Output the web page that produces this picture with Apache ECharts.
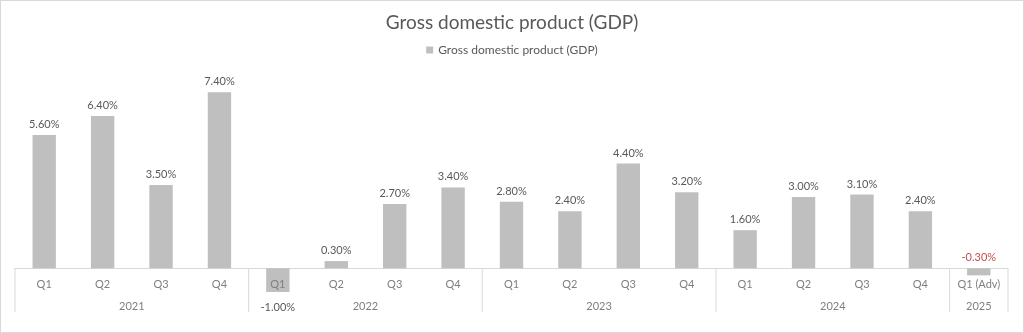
<!DOCTYPE html>
<html>
<head>
<meta charset="utf-8">
<script src="https://cdn.jsdelivr.net/npm/echarts@6/dist/echarts.min.js"></script>
<style>
html,body{margin:0;padding:0;background:#fff;}
#c{width:1024px;height:333px;box-sizing:border-box;border:1px solid #d9d9d9;}
</style>
</head>
<body>
<div id="c"></div>
<script>
const quarters = ['Q1','Q2','Q3','Q4','Q1','Q2','Q3','Q4','Q1','Q2','Q3','Q4','Q1','Q2','Q3','Q4','Q1 (Adv)'];
const gdp = [5.6, 6.4, 3.5, 7.4, -1.0, 0.3, 2.7, 3.4, 2.8, 2.4, 4.4, 3.2, 1.6, 3.0, 3.1, 2.4, -0.3];
const years = ['2021', '2022', '2023', '2024', '2025'];
const yearStart = [0, 4, 8, 12, 16];
const yearEnd = [3, 7, 11, 15, 16];
const seriesName = 'Gross domestic product (GDP)';

const FONT = 'Lato, "Open Sans", sans-serif';
const chart = echarts.init(document.getElementById('c'), null, {renderer: 'canvas'});

const barData = gdp.map((v, i) => {
  const d = {value: v};
  if (i === 4) d.label = {position: 'bottom', distance: 10};
  if (i === 16) d.label = {position: 'top', color: '#c0504d'};
  return d;
});

chart.setOption({
  animation: false,
  textStyle: {fontFamily: FONT},
  title: {
    text: 'Gross domestic product (GDP)',
    left: 'center', top: 7,
    textStyle: {fontSize: 19, fontWeight: 'normal', color: '#595959', fontFamily: FONT}
  },
  legend: {
    data: [seriesName],
    top: 38, left: 'center',
    icon: 'rect', itemWidth: 7, itemHeight: 7, itemGap: 5,
    textStyle: {fontSize: 12, color: '#595959', fontFamily: FONT}
  },
  grid: {left: 14, right: 15, top: 77, bottom: 40, containLabel: false},
  xAxis: {
    type: 'category',
    data: quarters,
    axisLine: {onZero: true, lineStyle: {color: '#d9d9d9', width: 1}},
    axisTick: {show: false},
    axisLabel: {show: false}
  },
  yAxis: {
    type: 'value', min: -1, max: 8,
    show: false,
    splitLine: {show: false}
  },
  series: [
    {
      name: seriesName,
      type: 'bar',
      data: barData,
      barWidth: '40%',
      itemStyle: {color: '#bfbfbf'},
      label: {
        show: true, position: 'top', distance: 5,
        color: '#595959', fontSize: 11, fontFamily: FONT,
        formatter: p => p.value.toFixed(2) + '%'
      },
      z: 2
    },
    {
      type: 'custom',
      name: 'quarters',
      data: quarters.map((q, i) => [i, 0]),
      encode: {x: 0, y: 1},
      clip: false,
      silent: true,
      z: 6,
      renderItem: function (params, api) {
        const p = api.coord([api.value(0), 0]);
        return {type: 'text', style: {x: p[0], y: p[1] + 16, text: quarters[params.dataIndex], fill: '#7f7f7f', fontSize: 11, fontFamily: FONT, align: 'center', verticalAlign: 'middle'}};
      }
    },
    {
      type: 'custom',
      name: 'years',
      data: yearStart.map((s, i) => [s, yearEnd[i]]),
      encode: {x: [0, 1]},
      clip: false,
      silent: true,
      z: 6,
      renderItem: function (params, api) {
        const s = api.value(0), e = api.value(1);
        const half = api.size([1, 0])[0] / 2;
        const p0 = api.coord([s, 0]);
        const p1 = api.coord([e, 0]);
        const x0 = p0[0] - half, x1 = p1[0] + half, y0 = p0[1];
        const children = [
          {type: 'line', shape: {x1: x0, y1: y0, x2: x0, y2: y0 + 44}, style: {stroke: '#d9d9d9', lineWidth: 1}},
          {type: 'text', style: {x: (x0 + x1) / 2, y: y0 + 38, text: years[params.dataIndex], fill: '#7f7f7f', fontSize: 11, fontFamily: FONT, align: 'center', verticalAlign: 'middle'}}
        ];
        if (params.dataIndex === years.length - 1) {
          children.push({type: 'line', shape: {x1: x1, y1: y0, x2: x1, y2: y0 + 44}, style: {stroke: '#d9d9d9', lineWidth: 1}});
        }
        return {type: 'group', children: children};
      }
    }
  ]
});
</script>
</body>
</html>
